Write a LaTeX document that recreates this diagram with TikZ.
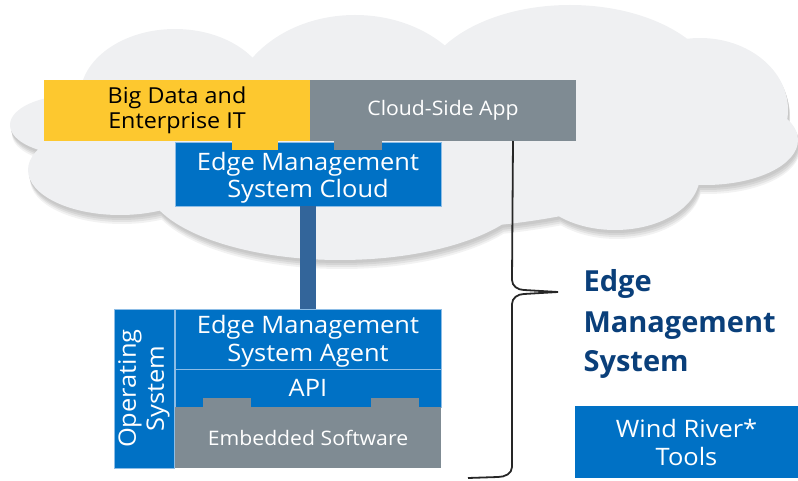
\documentclass[tikz,border=0pt]{standalone}
\usepackage{fontspec}
\setmainfont{Open Sans}[FakeStretch=1.06]
\newfontfamily\titlefont{Open Sans}
\definecolor{iblue}{HTML}{0071C5}
\definecolor{iblueedge}{HTML}{8DBDE6}
\definecolor{iyellow}{HTML}{FDC82F}
\definecolor{igray}{HTML}{7F8B93}
\definecolor{iconn}{HTML}{33659A}
\definecolor{inavy}{HTML}{0A3F7A}
\definecolor{cloudfill}{HTML}{EFF0F2}
\newcommand\fsz[2]{\fontsize{#1}{#2}\selectfont}
% strut that lowers the first line of a two-line box label
\newcommand\topstrut[1]{\rule{0pt}{#1}}
\begin{document}
\begin{tikzpicture}[x=1pt,y=-1pt,
  cloudshape/.style={insert path={
    (75,125) ellipse [x radius=65, y radius=30]
    (175,97) ellipse [x radius=95, y radius=68]
    (355,115) ellipse [x radius=125, y radius=100]
    (570,95) ellipse [x radius=150, y radius=90]
    (700,110) ellipse [x radius=88, y radius=72]
    (705,140) ellipse [x radius=93, y radius=45]
    (615,175) ellipse [x radius=85, y radius=55]
    (340,180) ellipse [x radius=195, y radius=80]
    (120,170) ellipse [x radius=92, y radius=45]
    (400,140) ellipse [x radius=300, y radius=90]}},
  box/.style={rectangle, inner sep=0pt, outer sep=0pt, align=center},
  bluebox/.style={box, fill=iblue, draw=iblueedge, line width=0.8pt, text=white},
  graybox/.style={box, fill=igray, text=white},
  yellowbox/.style={box, fill=iyellow, text=black},
  bigtext/.style={font=\fsz{24}{28}},
  smalltext/.style={font=\fsz{20}{25}},
  brace/.style={line width=1.8pt, color=black!85},
  title/.style={anchor=base west, text=inavy, font=\fsz{29}{40}\titlefont\bfseries}
]
\useasboundingbox (0,0) rectangle (798,481);

% cloud with soft drop shadow
\path[fill=black!5, shift={(2,9)}, cloudshape];
\path[fill=black!11, shift={(2,7)}, cloudshape];
\path[fill=black!17, shift={(1.5,5)}, cloudshape];
\path[fill=black!21, shift={(1,3)}, cloudshape];
\path[fill=cloudfill, cloudshape];

% cloud-side layer
\node[yellowbox, font=\fsz{22}{25}, minimum width=266pt, minimum height=61pt] (bigdata) at (177,110.5) {Big Data and\\Enterprise IT};
\node[graybox, smalltext, minimum width=266pt, minimum height=61pt] (cloudapp) at (443,110.5) {Cloud-Side App};
\node[bluebox, font=\fsz{24}{27}, minimum width=266pt, minimum height=64pt] (emscloud) at (308,174) {\topstrut{25pt}Edge Management\\System Cloud};
\fill[iyellow] (232,140) rectangle (278,150);
\fill[igray] (334,140) rectangle (382,150);

% device-side stack
\node[bluebox, bigtext, minimum width=266pt, minimum height=60pt] (agent) at (308,339) {\topstrut{23.5pt}Edge Management\\System Agent};
\node[bluebox, bigtext, minimum width=266pt, minimum height=38pt] (api) at (308,388) {API};
\node[graybox, smalltext, minimum width=266pt, minimum height=61pt] (embedded) at (308,437.5) {Embedded Software};
\fill[igray] (203,398) rectangle (251,408);
\fill[igray] (371,398) rectangle (419,408);
\node[bluebox, bigtext, rotate=90, minimum width=159pt, minimum height=60pt] (os) at (144,388.5) {Operating\\System};

% link between cloud and agent
\draw[line width=16pt, iconn] (emscloud.south) -- (agent.north);

% brace grouping the management system
\coordinate (bracetop) at (513,141);
\coordinate (bracetip) at (558,292);
\coordinate (braceend) at (468,478);
\draw[brace] (bracetop) -- (512,280) to[out=-90,in=180] (524,290) -- (bracetip)
  -- (524,294) to[out=180,in=90] (512,304) -- (512,467) to[out=-90,in=0] (498,477) -- (braceend);

% labels on the right
\node[title] (t1) at (580,291) {Edge};
\node[title] (t2) at (580,332) {Management};
\node[title] (t3) at (580,371) {System};
\node[bluebox, draw=none, bigtext, minimum width=223pt, minimum height=72pt] (wind) at (686.5,442) {Wind River*\\Tools};
\end{tikzpicture}
\end{document}
